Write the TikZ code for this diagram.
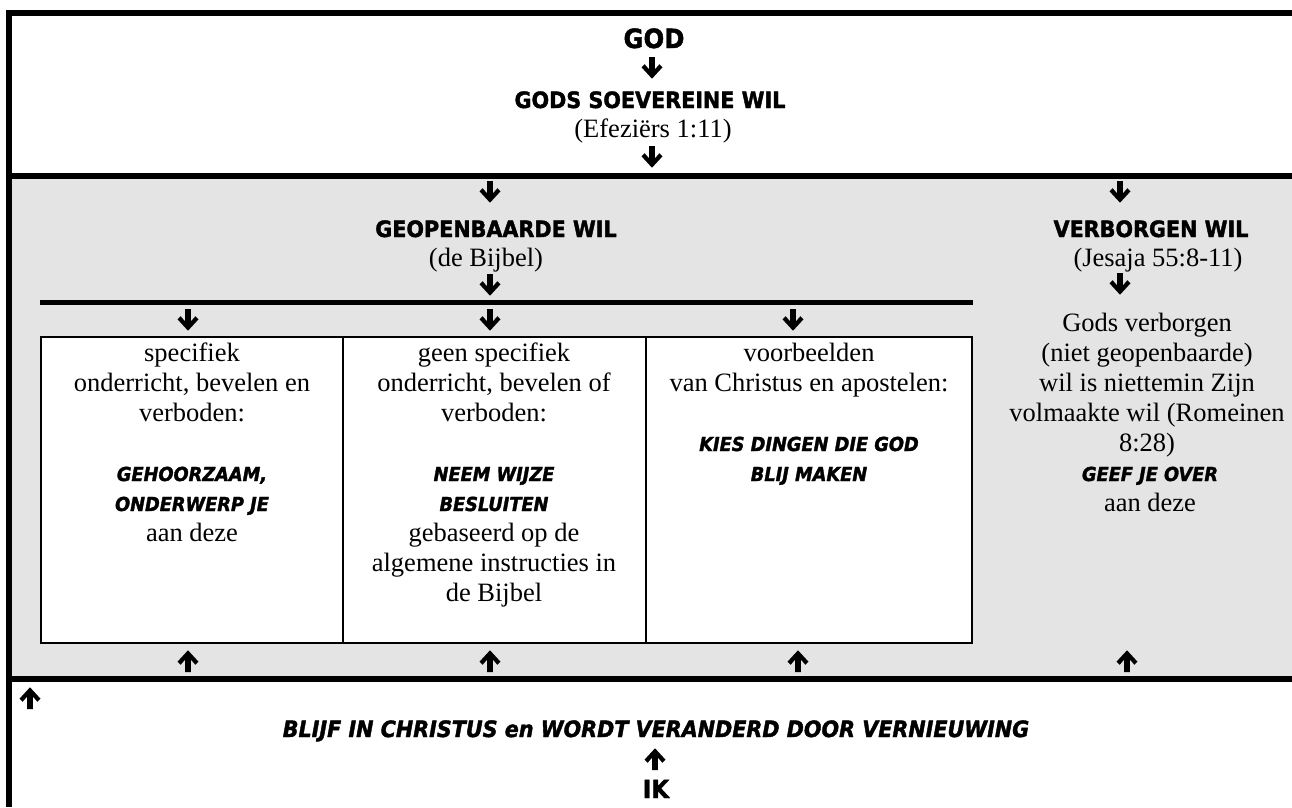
\documentclass[tikz,border=0pt]{standalone}
\usepackage{fontspec}
\setmainfont{Liberation Serif}
\newfontfamily\heavyfont{DejaVu Sans}[FakeStretch=0.92,BoldFeatures={FakeBold=1.7},BoldItalicFeatures={FakeBold=1.7}]
\definecolor{panel}{HTML}{E4E4E4}
\tikzset{
  serif/.style={font=\fontsize{26.5}{30}\selectfont, inner sep=0pt, anchor=base},
  hv/.style={font=\heavyfont\bfseries\fontsize{22.5}{24}\selectfont, inner sep=0pt, anchor=base},
  hvit/.style={font=\heavyfont\bfseries\itshape\fontsize{19.3}{24}\selectfont, inner sep=0pt, anchor=base},
  frameline/.style={line width=6pt},
  dnarrow/.pic={\fill (-2.8,-11) -- (2.8,-11) -- (2.8,1.5) -- (7.4,-3.8) -- (10.5,-0.7) -- (0,10.7) -- (-10.5,-0.7) -- (-7.4,-3.8) -- (-2.8,1.5) -- cycle;},
  uparrow/.pic={\begin{scope}[yscale=-1]\fill (-2.8,-11) -- (2.8,-11) -- (2.8,1.5) -- (7.4,-3.8) -- (10.5,-0.7) -- (0,10.7) -- (-10.5,-0.7) -- (-7.4,-3.8) -- (-2.8,1.5) -- cycle;\end{scope}},
}
\begin{document}
\begin{tikzpicture}[x=1pt,y=-1pt]
\useasboundingbox (0,0) rectangle (1292,807);
% panels and frame
\fill[panel] (12,179) rectangle (1292,676);
\draw[frameline] (9,10) -- (9,807);
\draw[frameline] (6,13) -- (1292,13);
\draw[frameline] (6,176) -- (1292,176);
\draw[frameline] (6,679) -- (1292,679);
\draw[line width=5pt] (40,302.5) -- (973,302.5);
\draw[line width=2pt, fill=white] (41,337) rectangle (972,643);
\draw[line width=2pt] (343,337) -- (343,643);
\draw[line width=2pt] (646,337) -- (646,643);

% top section
\node[hv, font=\heavyfont\bfseries\fontsize{26.5}{28}\selectfont] (god) at (654,48) {GOD};
\pic (a1) at (652,68) {dnarrow};
\node[hv] (sov) at (650,108) {GODS SOEVEREINE WIL};
\node[serif] (efe) at (653,137) {(Efeziërs 1:11)};
\pic (a2) at (652,157) {dnarrow};

% revealed / hidden
\pic (a3) at (490,192) {dnarrow};
\node[hv] (geo) at (496,237) {GEOPENBAARDE WIL};
\node[serif] (bij) at (486,266) {(de Bijbel)};
\pic (a4) at (490,285) {dnarrow};

\pic (a5) at (1120,192) {dnarrow};
\node[hv] (ver) at (1151,237) {VERBORGEN WIL};
\node[serif] (jes) at (1158,266) {(Jesaja 55:8-11)};
\pic (a6) at (1120,284) {dnarrow};

\pic (a7) at (188,320) {dnarrow};
\pic (a8) at (490,320) {dnarrow};
\pic (a9) at (793,320) {dnarrow};

% box 1
\foreach \t [count=\i] in {specifiek,{onderricht, bevelen en},verboden:}
  \node[serif] (bA\i) at ({192},{361+30*(\i-1)}) {\t};
\foreach \t [count=\i] in {GEHOORZAAM{,},ONDERWERP JE}
  \node[hvit] (bAh\i) at ({192},{481+30*(\i-1)}) {\t};
\node[serif] (bAe) at (192,541) {aan deze};

% box 2
\foreach \t [count=\i] in {geen specifiek,{onderricht, bevelen of},verboden:}
  \node[serif] (bB\i) at ({494},{361+30*(\i-1)}) {\t};
\foreach \t [count=\i] in {NEEM WIJZE,BESLUITEN}
  \node[hvit] (bBh\i) at ({494},{481+30*(\i-1)}) {\t};
\foreach \t [count=\i] in {gebaseerd op de,algemene instructies in,de Bijbel}
  \node[serif] (bBe\i) at ({494},{541+30*(\i-1)}) {\t};

% box 3
\foreach \t [count=\i] in {voorbeelden,van Christus en apostelen:}
  \node[serif] (bC\i) at ({809},{361+30*(\i-1)}) {\t};
\foreach \t [count=\i] in {KIES DINGEN DIE GOD,BLIJ MAKEN}
  \node[hvit] (bCh\i) at ({809},{451+30*(\i-1)}) {\t};

% right column
\foreach \t [count=\i] in {Gods verborgen,(niet geopenbaarde),wil is niettemin Zijn,volmaakte wil (Romeinen,8:28)}
  \node[serif] (rD\i) at ({1147},{331+30*(\i-1)}) {\t};
\node[hvit] (rDh) at (1150,481) {GEEF JE OVER};
\node[serif] (rDe) at (1150,511) {aan deze};

% up arrows
\pic (u1) at (188,661) {uparrow};
\pic (u2) at (490,661) {uparrow};
\pic (u3) at (798,661) {uparrow};
\pic (u4) at (1127,661) {uparrow};
\pic (u5) at (30,698) {uparrow};

\node[hvit, font=\heavyfont\bfseries\itshape\fontsize{22.5}{24}\selectfont] (blijf) at (656,737) {BLIJF IN CHRISTUS en WORDT VERANDERD DOOR VERNIEUWING};
\pic (u6) at (655,759) {uparrow};
\node[hv, font=\heavyfont\bfseries\fontsize{25}{28}\selectfont] (ik) at (656,798) {IK};
\end{tikzpicture}
\end{document}
